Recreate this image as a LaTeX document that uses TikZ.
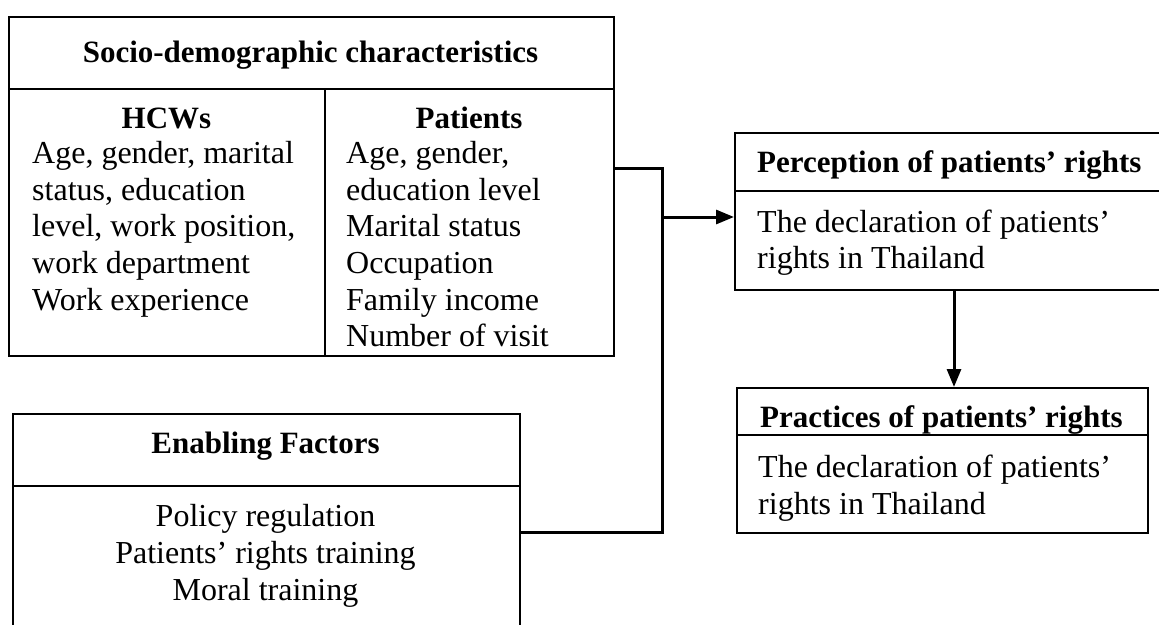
\documentclass[tikz,border=0pt]{standalone}
\usepackage{fontspec}
\setmainfont{Liberation Serif}
\usetikzlibrary{arrows.meta}
\tikzset{
  box/.style={draw, line width=1.8pt, inner sep=0pt, anchor=north west},
  sepline/.style={line width=1.8pt},
  conn/.style={line width=3pt},
  arr/.style={-{Triangle[length=18pt,width=14pt]}},
  txt/.style={inner sep=0pt, font=\fontsize{32}{36.7}\selectfont},
  head/.style={inner sep=0pt, font=\fontsize{31}{36.7}\selectfont\bfseries},
}
\begin{document}
\begin{tikzpicture}[x=1pt,y=-1pt]
\useasboundingbox (0,0) rectangle (1159,624);

% boxes
\node[box, minimum width=605pt, minimum height=339pt] (socio) at (8,16) {};
\node[box, minimum width=507pt, minimum height=220pt] (enab) at (12,413) {};
\node[box, minimum width=430pt, minimum height=157pt] (perc) at (734,132) {};
\node[box, minimum width=411pt, minimum height=145pt] (prac) at (736,387) {};

% inner lines
\draw[sepline] (socio.west |- 0,89) -- (socio.east |- 0,89);
\draw[sepline] (325,89) -- (socio.south -| 325,0);
\draw[sepline] (enab.west |- 0,486) -- (enab.east |- 0,486);
\draw[sepline] (perc.west |- 0,191) -- (perc.east |- 0,191);
\draw[sepline] (prac.west |- 0,435) -- (prac.east |- 0,435);

% texts
\node[head, anchor=base] (sochead) at (310.5,62.5) {Socio-demographic characteristics};
\node[head, anchor=base] (hcwhead) at (166.5,128.5) {HCWs};
\node[head, anchor=base] (pathead) at (469,128.5) {Patients};
\node[txt, anchor=north west, align=left] (hcwbody) at (32,141)
  {Age, gender, marital\\status, education\\level, work position,\\work department\\Work experience};
\begin{scope}
\clip (326,90) rectangle (612,350);
\node[txt, anchor=north west, align=left] (patbody) at (346,141)
  {Age, gender,\\education level\\Marital status\\Occupation\\Family income\\Number of visit};
\end{scope}

\node[head, anchor=base] (enabhead) at (265.5,453.5) {Enabling Factors};
\node[txt, anchor=north, align=center] (enabbody) at (265.5,504.5)
  {Policy regulation\\Patients’ rights training\\Moral training};

\node[head, anchor=base west] (perchead) at (757,172) {Perception of patients’ rights};
\node[txt, anchor=north west, align=left] (percbody) at (757,209.5)
  {The declaration of patients’\\rights in Thailand};

\node[head, anchor=base west] (prachead) at (760,427) {Practices of patients’ rights};
\node[txt, anchor=north west, align=left] (pracbody) at (758,455)
  {The declaration of patients’\\rights in Thailand};

% connectors
\coordinate (jtop) at (662,168);
\coordinate (jmid) at (662,217);
\coordinate (jbot) at (662,532);
\coordinate (down) at (954,0);
\draw[conn] (socio.east |- jtop) -- (jtop) -- (jbot) -- (enab.east |- jbot);
\draw[conn, arr] (jmid) -- (perc.west |- jmid);
\draw[conn, arr] (perc.south -| down) -- (prac.north -| down);
\end{tikzpicture}
\end{document}
